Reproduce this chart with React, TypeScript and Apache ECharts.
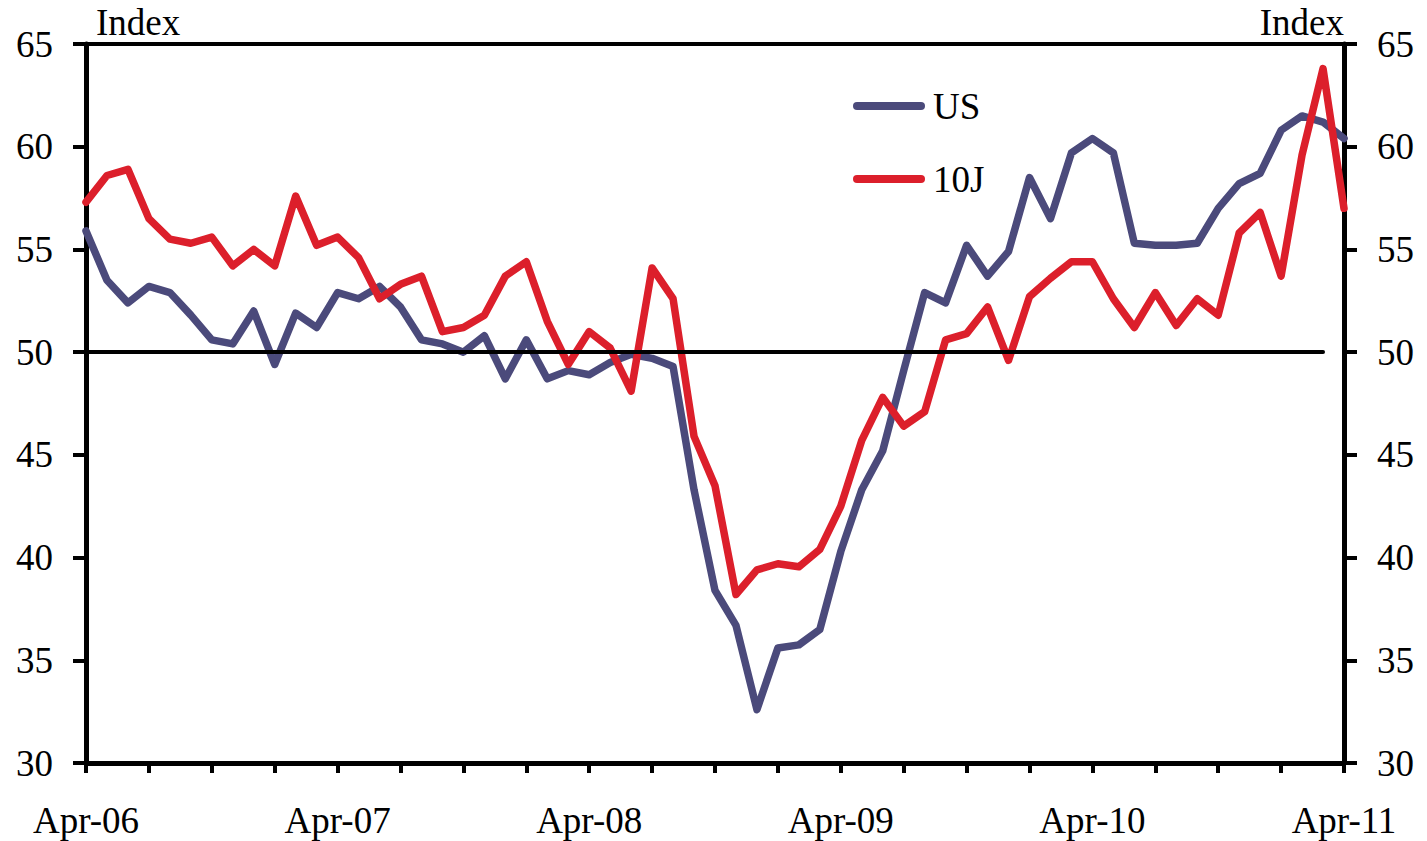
import React, { useEffect, useRef } from "react";
import * as echarts from "echarts";

const months = ["Jan","Feb","Mar","Apr","May","Jun","Jul","Aug","Sep","Oct","Nov","Dec"];
const categories: string[] = [];
for (let y = 2006; y <= 2011; y++) {
  for (let m = 0; m < 12; m++) {
    if ((y === 2006 && m < 3) || (y === 2011 && m > 3)) continue;
    categories.push(`${months[m]}-${String(y).slice(2)}`);
  }
}

const usValues = [
  55.9, 53.5, 52.4, 53.2, 52.9, 51.8, 50.6, 50.4, 52.0, 49.4,
  51.9, 51.2, 52.9, 52.6, 53.2, 52.2, 50.6, 50.4, 50.0, 50.8,
  48.7, 50.6, 48.7, 49.1, 48.9, 49.5, 49.9, 49.7, 49.3, 43.3,
  38.4, 36.7, 32.6, 35.6, 35.75, 36.5, 40.3, 43.3, 45.2, 49.1,
  52.9, 52.4, 55.2, 53.7, 54.9, 58.5, 56.5, 59.7, 60.4, 59.7,
  55.3, 55.2, 55.2, 55.3, 57.0, 58.2, 58.7, 60.8, 61.5, 61.2,
  60.4,
];

const tenJValues = [
  57.3, 58.6, 58.9, 56.5, 55.5, 55.3, 55.6, 54.2, 55.0, 54.2,
  57.6, 55.2, 55.6, 54.6, 52.6, 53.3, 53.7, 51.0, 51.2, 51.8,
  53.7, 54.4, 51.5, 49.4, 51.0, 50.2, 48.1, 54.1, 52.6, 45.9,
  43.5, 38.2, 39.4, 39.7, 39.55, 40.4, 42.5, 45.7, 47.8, 46.4,
  47.1, 50.6, 50.9, 52.2, 49.6, 52.7, 53.6, 54.4, 54.4, 52.6,
  51.2, 52.9, 51.3, 52.6, 51.8, 55.8, 56.8, 53.7, 59.6, 63.8,
  57.0,
];

const yTicks = [30, 35, 40, 45, 50, 55, 60, 65];
const refLevel = 50;
const refEndIndex = 59;

const FONT = "'Liberation Serif', 'DejaVu Serif', serif";
const BLUE = "#4B4A7B";
const RED = "#DC1F2B";
const CAPSULE = "path://M4,0 L68,0 A4,4 0 0 1 68,8 L4,8 A4,4 0 0 1 4,0 Z";

export default function App() {
  const ref = useRef<HTMLDivElement>(null);
  useEffect(() => {
    if (!ref.current) return;
    const chart = echarts.init(ref.current, undefined, { renderer: "svg" });
    const yAxisCommon = {
      type: "value" as const,
      min: yTicks[0],
      max: yTicks[yTicks.length - 1],
      interval: 5,
      axisLine: { show: true, lineStyle: { color: "#000", width: 5 } },
      axisTick: { show: true, length: 13, lineStyle: { color: "#000", width: 4 } },
      splitLine: { show: false },
      axisLabel: { color: "#000", fontFamily: FONT, fontSize: 37, margin: 33 },
    };
    chart.setOption({
      animation: false,
      backgroundColor: "#fff",
      grid: {
        left: 86, right: 83, top: 44, bottom: 78,
        show: true, borderColor: "#000", borderWidth: 4, containLabel: false,
      },
      legend: {
        show: true,
        orient: "vertical",
        left: 848,
        top: 80,
        itemWidth: 72,
        itemHeight: 8,
        itemGap: 31,
        icon: CAPSULE,
        textStyle: { color: "#000", fontFamily: FONT, fontSize: 37, lineHeight: 42, padding: [0, 0, 0, 3] },
        data: ["US", "10J"],
      },
      xAxis: {
        type: "category",
        data: categories,
        boundaryGap: false,
        axisLine: { show: true, lineStyle: { color: "#000", width: 5 } },
        axisTick: {
          show: true, length: 10, inside: false,
          interval: (i: number) => i % 3 === 0,
          lineStyle: { color: "#000", width: 4 },
        },
        axisLabel: {
          color: "#000", fontFamily: FONT, fontSize: 37, margin: 39,
          interval: (i: number) => i % 12 === 0,
        },
        splitLine: { show: false },
      },
      yAxis: [
        { ...yAxisCommon, position: "left" },
        { ...yAxisCommon, position: "right" },
      ],
      graphic: [
        { type: "text", left: 96, top: 4, style: { text: "Index", fontFamily: FONT, fontSize: 37, fill: "#000" } },
        { type: "text", right: 83, top: 4, style: { text: "Index", fontFamily: FONT, fontSize: 37, fill: "#000" } },
      ],
      series: [
        {
          name: "US",
          type: "line",
          data: usValues,
          symbol: "none",
          yAxisIndex: 0,
          lineStyle: { color: BLUE, width: 7.5, cap: "round", join: "round" },
          itemStyle: { color: BLUE },
          markLine: {
            silent: true,
            symbol: ["none", "none"],
            label: { show: false },
            lineStyle: { color: "#000", width: 4, type: "solid", cap: "round" },
            data: [[{ coord: [0, refLevel] }, { coord: [refEndIndex, refLevel] }]],
          },
          z: 3,
        },
        {
          name: "10J",
          type: "line",
          data: tenJValues,
          symbol: "none",
          yAxisIndex: 0,
          lineStyle: { color: RED, width: 7.5, cap: "round", join: "round" },
          itemStyle: { color: RED },
          z: 4,
        },
      ],
    });
    return () => chart.dispose();
  }, []);
  return (
    <div
      ref={ref}
      style={{ position: "fixed", left: 0, top: 0, width: 1427, height: 841, background: "#fff" }}
    />
  );
}
